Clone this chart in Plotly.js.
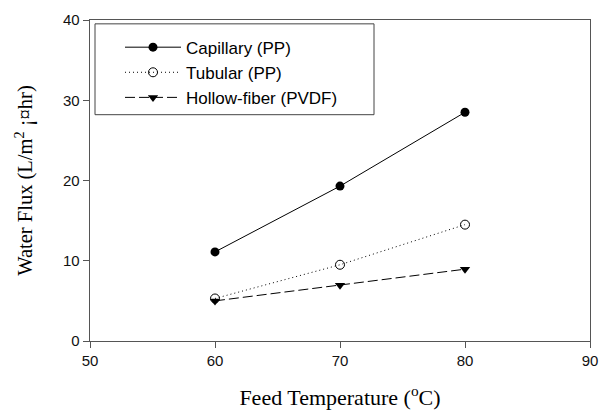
<!DOCTYPE html>
<html><head><meta charset="utf-8">
<script src="https://cdn.plot.ly/plotly-3.0.1.min.js"></script>
<style>body{margin:0;background:#fff}#c{width:600px;height:410px}</style>
</head><body><div id="c"></div>
<script>
const temps = [60, 70, 80];
const capillary = [11.1, 19.3, 28.5];
const tubular = [5.3, 9.5, 14.5];
const hollow = [5.0, 6.95, 8.95];
const names = ["Capillary (PP)", "Tubular (PP)", "Hollow-fiber (PVDF)"];
const xTicks = [50, 60, 70, 80, 90];
const yTicks = [0, 10, 20, 30, 40];

const traces = [
  {x: temps, y: capillary, name: names[0], mode: "lines+markers",
   line: {color: "#000", width: 1, dash: "solid"},
   marker: {symbol: "circle", size: 9, color: "#000"}},
  {x: temps, y: tubular, name: names[1], mode: "lines+markers",
   line: {color: "#000", width: 1, dash: "1px,3px"},
   marker: {symbol: "circle-open", size: 9, color: "#000", line: {width: 1, color: "#000"}}},
  {x: temps, y: hollow, name: names[2], mode: "lines+markers",
   line: {color: "#000", width: 1, dash: "10px,4px"},
   marker: {symbol: "triangle-down", size: 9, color: "#000"}}
];

const layout = {
  width: 600, height: 410,
  margin: {l: 90, r: 10, t: 20, b: 69},
  paper_bgcolor: "#fff", plot_bgcolor: "#fff",
  showlegend: true,
  legend: {x: 0.06, y: 0.97, xanchor: "left", yanchor: "top",
           bgcolor: "rgba(0,0,0,0)", borderwidth: 0,
           font: {family: "Liberation Sans, Arial", size: 17, color: "#000"},
           itemwidth: 56, tracegroupgap: 0},
  xaxis: {range: [50, 90], tickvals: xTicks, ticks: "outside", ticklen: 6,
          showline: true, mirror: true, linecolor: "#555", tickcolor: "#555", linewidth: 1.3,
          showgrid: false, zeroline: false,
          tickfont: {family: "Liberation Sans, Arial", size: 15, color: "#111"},
          title: {text: "Feed Temperature (<sup>o</sup>C)", standoff: 23,
                  font: {family: "Liberation Serif, Times New Roman", size: 22, color: "#000"}}},
  yaxis: {range: [0, 40], tickvals: yTicks, ticks: "outside", ticklen: 6,
          showline: true, mirror: true, linecolor: "#555", tickcolor: "#555", linewidth: 1.3,
          showgrid: false, zeroline: false,
          tickfont: {family: "Liberation Sans, Arial", size: 15, color: "#111"},
          title: {text: "Water Flux (L/m<sup>2</sup> ¡¤hr)", standoff: 24,
                  font: {family: "Liberation Serif, Times New Roman", size: 20.5, color: "#000"}}},
  shapes: [{type: "rect", xref: "paper", yref: "paper",
            x0: 0.01, x1: 0.568, y0: 0.705, y1: 0.988,
            line: {color: "#444", width: 1}}]
};
Plotly.newPlot("c", traces, layout, {displayModeBar: false, staticPlot: true});
</script></body></html>
